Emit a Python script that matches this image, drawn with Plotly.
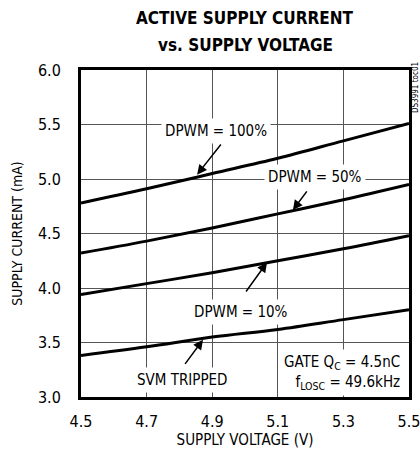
import plotly.graph_objects as go

voltage = [4.5, 4.7, 4.9, 5.1, 5.3, 5.5]
dpwm100 = [4.78, 4.91, 5.05, 5.19, 5.35, 5.51]
dpwm50 = [4.32, 4.43, 4.55, 4.68, 4.81, 4.95]
dpwm10 = [3.94, 4.04, 4.14, 4.25, 4.36, 4.48]
svm_tripped = [3.38, 3.46, 3.55, 3.62, 3.71, 3.80]

x_ticks = [4.5, 4.7, 4.9, 5.1, 5.3, 5.5]
y_ticks = [3.0, 3.5, 4.0, 4.5, 5.0, 5.5, 6.0]

FONT = "Liberation Sans Narrow, DejaVu Sans Condensed, Arial Narrow, sans-serif"

fig = go.Figure()
for name, ys in [("DPWM = 100%", dpwm100), ("DPWM = 50%", dpwm50),
                 ("DPWM = 10%", dpwm10), ("SVM TRIPPED", svm_tripped)]:
    fig.add_trace(go.Scatter(x=voltage, y=ys, mode="lines", name=name,
                             line=dict(color="black", width=3, shape="spline"),
                             showlegend=False))

labels = [
    ("DPWM = 100%", 4.912, 5.44),
    ("DPWM = 50%", 5.213, 5.018),
    ("DPWM = 10%", 4.988, 3.78),
    ("SVM TRIPPED", 4.808, 3.156),
]
for t, x, y in labels:
    fig.add_annotation(x=x, y=y, text=t, showarrow=False, bgcolor="white",
                       borderpad=3, font=dict(size=15, color="black", family=FONT))

arrows = [
    ((4.854, 5.04), (4.93, 5.33)),
    ((5.146, 4.715), (5.192, 4.90)),
    ((5.067, 4.235), (5.0, 3.954)),
    ((4.872, 3.525), (4.814, 3.29)),
]
for (tx, ty), (sx, sy) in arrows:
    fig.add_annotation(x=tx, y=ty, ax=sx, ay=sy, axref="x", ayref="y",
                       text="", showarrow=True, arrowhead=2, arrowsize=1.3,
                       arrowwidth=1.5, arrowcolor="black")

fig.add_annotation(x=5.484, y=3.225, xanchor="right", align="right",
                   text="GATE Q<sub>C</sub> = 4.5nC<br>f<sub>LOSC</sub> = 49.6kHz",
                   showarrow=False, bgcolor="white", borderpad=3,
                   font=dict(size=15, color="black", family=FONT))

fig.add_annotation(xref="paper", yref="paper", x=1.0, y=1.0, xanchor="center",
                   yanchor="middle", xshift=6, yshift=-18, text="DS3991 toc01",
                   textangle=-90, showarrow=False,
                   font=dict(size=8, color="black", family=FONT))

# title lines as paper annotations
for txt, shift in [("<b>ACTIVE SUPPLY CURRENT</b>", 52), ("<b>vs. SUPPLY VOLTAGE</b>", 25)]:
    fig.add_annotation(xref="paper", yref="paper", x=0.5, y=1.0, yshift=shift,
                       xanchor="center", yanchor="middle", text=txt,
                       showarrow=False, font=dict(size=17, color="black", family=FONT))

fig.update_layout(
    width=420, height=459,
    margin=dict(l=81, r=11, t=70, b=62, autoexpand=False),
    paper_bgcolor="white", plot_bgcolor="white",
    font=dict(family=FONT, color="black", size=15),
)
fig.update_xaxes(range=[4.5, 5.5], tickvals=x_ticks, ticktext=[f"{v:.1f}" for v in x_ticks],
                 showgrid=True, gridcolor="#555", gridwidth=1, zeroline=False,
                 showline=True, linecolor="black", linewidth=3, mirror=True,
                 ticks="", ticklabelstandoff=8, automargin=False,
                 ticklabeloverflow="allow",
                 title=dict(text="SUPPLY VOLTAGE (V)", standoff=4, font=dict(size=15)),
                 tickfont=dict(size=16))
fig.update_yaxes(range=[3.0, 6.0], tickvals=y_ticks, ticktext=[f"{v:.1f}" for v in y_ticks],
                 showgrid=True, gridcolor="#555", gridwidth=1, zeroline=False,
                 showline=True, linecolor="black", linewidth=3, mirror=True,
                 ticks="", ticklabelstandoff=14, automargin=False,
                 ticklabeloverflow="allow",
                 title=dict(text="SUPPLY CURRENT (mA)", standoff=13, font=dict(size=14)),
                 tickfont=dict(size=16))

# remove the page's default 8px body margin so the 420x459 figure fills the window
fig.write_html("out.html", config={"displayModeBar": False},
               post_script="document.body.style.margin='0px';document.body.style.overflow='hidden';")
